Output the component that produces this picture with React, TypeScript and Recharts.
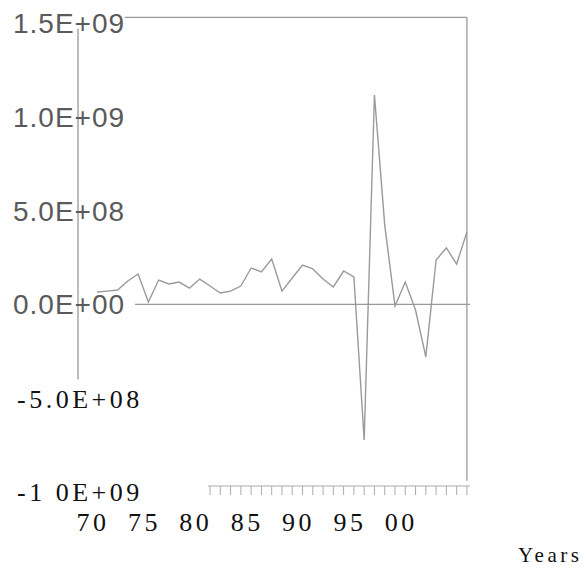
import { LineChart, Line, XAxis, YAxis, ReferenceLine, Label } from 'recharts';

const years = [
  1970, 1971, 1972, 1973, 1974, 1975, 1976, 1977, 1978, 1979,
  1980, 1981, 1982, 1983, 1984, 1985, 1986, 1987, 1988, 1989,
  1990, 1991, 1992, 1993, 1994, 1995, 1996, 1997, 1998, 1999,
  2000, 2001, 2002, 2003, 2004, 2005, 2006,
];
const values = [
  6.6e7, 7.1e7, 7.7e7, 1.25e8, 1.62e8, 1.3e7, 1.3e8, 1.09e8, 1.19e8, 8.7e7,
  1.35e8, 9.8e7, 6.1e7, 7.1e7, 9.8e7, 1.94e8, 1.73e8, 2.42e8, 7.1e7, 1.41e8,
  2.1e8, 1.89e8, 1.35e8, 9.3e7, 1.78e8, 1.46e8, -7.23e8, 1.116e9, 4.24e8, -9e6,
  1.19e8, -3.0e7, -2.8e8, 2.37e8, 3.01e8, 2.15e8, 3.86e8,
];

const yTicks = [1.5e9, 1.0e9, 5.0e8, 0, -5.0e8, -1.0e9];
const yTickLabels = ['1.5E+09', '1.0E+09', '5.0E+08', '0.0E+00', '-5.0E+08', '-1 0E+09'];
const labelYears = [1970, 1975, 1980, 1985, 1990, 1995, 2000];
const labelTexts = ['70', '75', '80', '85', '90', '95', '00'];
const firstMinorYear = 1981;

const X_MIN = 1968.15;
const X_MAX = 2006.3;

const data = years.map((year, i) => ({ year, value: values[i] }));

function YTick({ y, payload }: any) {
  const i = yTicks.indexOf(payload.value);
  const serif = payload.value < 0;
  return (
    <text
      x={serif ? 17 : 13}
      y={y}
      dy="0.36em"
      textAnchor="start"
      fontFamily={serif ? 'Liberation Serif' : 'Liberation Sans'}
      fontSize={serif ? 26 : 28}
      letterSpacing={serif ? 3.5 : 1}
      fill={serif ? '#111' : '#5a5a5a'}
      style={{ whiteSpace: 'pre' }}
    >
      {yTickLabels[i]}
    </text>
  );
}

function XTick({ x, y, payload }: any) {
  const yr = payload.value;
  const li = labelYears.indexOf(yr);
  return (
    <g>
      {yr >= firstMinorYear && (
        <line x1={x} y1={y - 6} x2={x} y2={y + 3} stroke="#aaa" strokeWidth={1} />
      )}
      {li >= 0 && (
        <text
          x={x - 4}
          y={y + 39}
          textAnchor="middle"
          fontFamily="Liberation Serif"
          fontSize={26}
          letterSpacing={3.5}
          fill="#111"
        >
          {labelTexts[li]}
        </text>
      )}
    </g>
  );
}

function YearsLabel({ viewBox }: any) {
  return (
    <text
      x={viewBox.x + viewBox.width + 48}
      y={viewBox.y + 70}
      textAnchor="start"
      fontFamily="Liberation Serif"
      fontSize={21}
      letterSpacing={3.5}
      fill="#111"
    >
      Years
    </text>
  );
}

export default function App() {
  return (
    <div style={{ position: 'absolute', left: 0, top: 0, width: 583, height: 568, background: '#fff' }}>
      <LineChart width={583} height={568} data={data} margin={{ top: 23, right: 113, bottom: 0, left: 0 }}>
        <XAxis
          dataKey="year"
          type="number"
          domain={[X_MIN, X_MAX]}
          ticks={years}
          interval={0}
          height={76}
          axisLine={false}
          tickLine={false}
          tickSize={0}
          tickMargin={0}
          tick={<XTick />}
        >
          <Label content={<YearsLabel />} />
        </XAxis>
        <YAxis
          type="number"
          domain={[-1e9, 1.5e9]}
          ticks={yTicks}
          interval={0}
          width={78}
          axisLine={false}
          tickLine={false}
          tick={<YTick />}
        />
        {/* frame pieces, as in the scan */}
        <ReferenceLine
          segment={[{ x: X_MIN, y: 1.47e9 }, { x: X_MIN, y: -4.0e8 }]}
          stroke="#999"
          strokeWidth={1.3}
          ifOverflow="visible"
        />
        <ReferenceLine
          segment={[{ x: 1972.7, y: 1.53e9 }, { x: 2006.0, y: 1.53e9 }]}
          stroke="#999"
          strokeWidth={1.3}
          ifOverflow="visible"
        />
        <ReferenceLine
          segment={[{ x: 2006.0, y: 1.53e9 }, { x: 2006.0, y: -9.4e8 }]}
          stroke="#999"
          strokeWidth={1.3}
          ifOverflow="visible"
        />
        <ReferenceLine
          segment={[{ x: 1973.7, y: 0 }, { x: 2006.3, y: 0 }]}
          stroke="#999"
          strokeWidth={1.3}
          ifOverflow="visible"
        />
        <ReferenceLine
          segment={[{ x: 1980.8, y: -9.68e8 }, { x: 2006.3, y: -9.68e8 }]}
          stroke="#aaa"
          strokeWidth={1}
          ifOverflow="visible"
        />
        <Line
          type="linear"
          dataKey="value"
          stroke="#9a9a9a"
          strokeWidth={1.4}
          dot={false}
          isAnimationActive={false}
        />
      </LineChart>
    </div>
  );
}
